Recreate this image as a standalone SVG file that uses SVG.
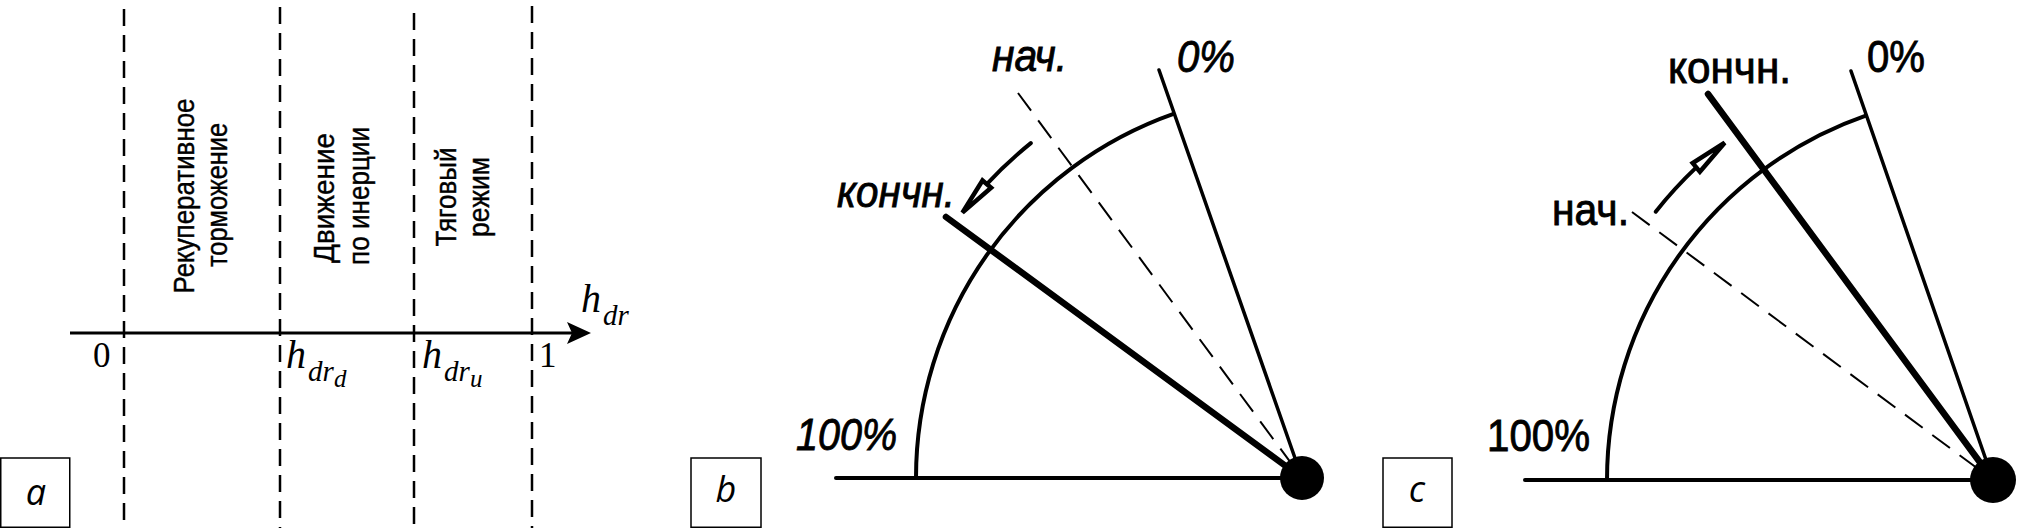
<svg xmlns="http://www.w3.org/2000/svg" width="2020" height="528" viewBox="0 0 2020 528">
<style>
.bg{fill:#fff}
.vdash{stroke:#000;stroke-width:2.5;stroke-dasharray:17 9;fill:none}
.axis{stroke:#000;stroke-width:3;fill:none}
.solid{stroke:#000;stroke-width:3.5;fill:none;stroke-linecap:round}
.base{stroke:#000;stroke-width:4;fill:none;stroke-linecap:round}
.arc{stroke:#000;stroke-width:4;fill:none}
.thick{stroke:#000;stroke-width:6.5;fill:none;stroke-linecap:round}
.ndash{stroke:#000;stroke-width:2;stroke-dasharray:22 12;fill:none}
.curarrow{stroke:#000;stroke-width:4;fill:none;stroke-linecap:round}
.head{fill:#fff;stroke:#000;stroke-width:4.5;stroke-linejoin:miter}
.pivot{fill:#000}
.box{fill:#fff;stroke:#000;stroke-width:1.5}
.boxlbl{font-family:"Open Sans","Liberation Sans",sans-serif;font-style:italic;font-size:36px;text-anchor:middle;fill:#000}
.vlbl{font-family:"Liberation Sans",Arial,sans-serif;font-size:29px;text-anchor:middle;fill:#000;stroke:#000;stroke-width:0.4}
.math{font-family:"Liberation Serif","Times New Roman",serif;font-style:italic;fill:#000}
.num{font-family:"Liberation Serif","Times New Roman",serif;font-size:35px;fill:#000}
.lblI{font-family:"Liberation Sans",Arial,sans-serif;font-style:italic;font-size:45px;fill:#000;stroke:#000;stroke-width:0.9}
.lbl{font-family:"Liberation Sans",Arial,sans-serif;font-size:45px;fill:#000;stroke:#000;stroke-width:0.9}
</style>
<rect class="bg" x="0" y="0" width="2020" height="528"/>

<!-- Panel a -->
<g id="panel-a">
  <g id="a-zones">
    <line class="vdash" x1="124" y1="9" x2="124" y2="528"/>
    <line class="vdash" x1="280" y1="7" x2="280" y2="528"/>
    <line class="vdash" x1="414" y1="13" x2="414" y2="528"/>
    <line class="vdash" x1="532" y1="6" x2="532" y2="528"/>
  </g>
  <g id="a-zone-regen">
    <text class="vlbl" transform="translate(194,196) rotate(-90)" textLength="195" lengthAdjust="spacingAndGlyphs">Рекуперативное</text>
    <text class="vlbl" transform="translate(227,195) rotate(-90)" textLength="144" lengthAdjust="spacingAndGlyphs">торможение</text>
  </g>
  <g id="a-zone-coast">
    <text class="vlbl" transform="translate(334,198) rotate(-90)" textLength="130" lengthAdjust="spacingAndGlyphs">Движение</text>
    <text class="vlbl" transform="translate(369,196) rotate(-90)" textLength="138" lengthAdjust="spacingAndGlyphs">по инерции</text>
  </g>
  <g id="a-zone-traction">
    <text class="vlbl" transform="translate(456,197) rotate(-90)" textLength="99" lengthAdjust="spacingAndGlyphs">Тяговый</text>
    <text class="vlbl" transform="translate(489,197) rotate(-90)" textLength="80" lengthAdjust="spacingAndGlyphs">режим</text>
  </g>
  <g id="a-axis">
    <line class="axis" x1="70" y1="333" x2="572" y2="333"/>
    <polygon points="591,333 567,322 572,333 567,344" fill="#000"/>
    <text class="math" x="581" y="312" font-size="40">h</text>
    <text class="math" x="603" y="325" font-size="29">dr</text>
    <text class="num" x="93" y="367">0</text>
    <text class="num" x="539" y="367">1</text>
    <text class="math" x="286" y="368" font-size="40">h</text>
    <text class="math" x="308" y="381" font-size="29">dr</text>
    <text class="math" x="334" y="387" font-size="25">d</text>
    <text class="math" x="422" y="368" font-size="40">h</text>
    <text class="math" x="444" y="381" font-size="29">dr</text>
    <text class="math" x="470" y="387" font-size="25">u</text>
  </g>
  <g id="a-tag">
    <rect class="box" x="0.75" y="458" width="69" height="69.25"/>
    <text class="boxlbl" x="36" y="505">a</text>
  </g>
</g>

<!-- Panel b -->
<g id="panel-b">
  <g id="b-connectors">
    <line class="base" x1="836" y1="478" x2="1302" y2="478"/>
    <path class="arc" d="M916 478 A386 386 0 0 1 1174.2 113.6"/>
    <line class="solid" x1="1159" y1="70" x2="1302" y2="478"/>
    <line class="ndash" x1="1018" y1="93" x2="1302" y2="478"/>
    <line class="thick" x1="946" y1="217" x2="1302" y2="478"/>
    <path class="curarrow" d="M1030.8 143.1 A431 431 0 0 0 986.8 184.1"/>
    <polygon class="head" points="962.4,212.6 982.5,180.5 991.1,187.7"/>
  </g>
  <g id="b-pivot"><circle class="pivot" cx="1302" cy="478" r="22"/></g>
  <g id="b-labels">
    <text class="lblI" x="992" y="71" textLength="75" lengthAdjust="spacingAndGlyphs">нач.</text>
    <text class="lblI" x="1177" y="72" textLength="58" lengthAdjust="spacingAndGlyphs">0%</text>
    <text class="lblI" x="837" y="207" textLength="118" lengthAdjust="spacingAndGlyphs">кончн.</text>
    <text class="lblI" x="796" y="450" textLength="101" lengthAdjust="spacingAndGlyphs">100%</text>
  </g>
  <g id="b-tag">
    <rect class="box" x="691" y="458" width="70" height="69.25"/>
    <text class="boxlbl" x="726" y="502">b</text>
  </g>
</g>

<!-- Panel c -->
<g id="panel-c">
  <g id="c-connectors">
    <line class="base" x1="1525" y1="480" x2="1993" y2="480"/>
    <path class="arc" d="M1607 480 A386 386 0 0 1 1866.5 115.3"/>
    <line class="solid" x1="1851" y1="71" x2="1993" y2="480"/>
    <line class="ndash" x1="1632" y1="212" x2="1993" y2="480"/>
    <line class="thick" x1="1708" y1="94" x2="1993" y2="480"/>
    <path class="curarrow" d="M1655.7 211.7 A431 431 0 0 1 1696.3 167.4"/>
    <polygon class="head" points="1724.7,142.7 1692.7,163.1 1699.9,171.7"/>
  </g>
  <g id="c-pivot"><circle class="pivot" cx="1993" cy="480" r="23"/></g>
  <g id="c-labels">
    <text class="lbl" x="1668" y="83" textLength="123" lengthAdjust="spacingAndGlyphs">кончн.</text>
    <text class="lbl" x="1552" y="225" textLength="77" lengthAdjust="spacingAndGlyphs">нач.</text>
    <text class="lbl" x="1867" y="72" textLength="58" lengthAdjust="spacingAndGlyphs">0%</text>
    <text class="lbl" x="1487" y="451" textLength="103" lengthAdjust="spacingAndGlyphs">100%</text>
  </g>
  <g id="c-tag">
    <rect class="box" x="1383" y="458" width="69" height="69.25"/>
    <text class="boxlbl" x="1417" y="502">c</text>
  </g>
</g>
</svg>
